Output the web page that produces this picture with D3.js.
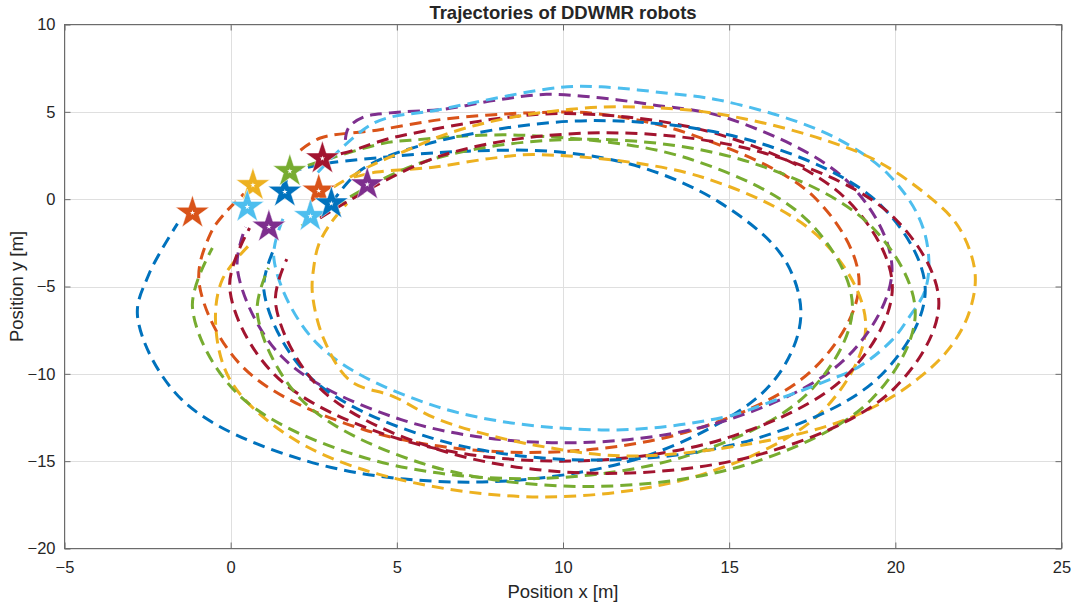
<!DOCTYPE html>
<html><head><meta charset="utf-8">
<script src="https://cdn.jsdelivr.net/npm/d3@7"></script>
<style>body{margin:0;background:#fff}text{font-family:"Liberation Sans",Arial,sans-serif;fill:#262626}</style>
</head><body><svg id="c" width="1076" height="608"></svg>
<script>
const xTicks=[-5,0,5,10,15,20,25];
const yTicks=[-20,-15,-10,-5,0,5,10];
const titleText="Trajectories of DDWMR robots";
const xLabel="Position x [m]";
const yLabel="Position y [m]";

const trajBlue1=[[1.63,0.42],[1.75,1.35],[2.5,1.9],[4.6,2.4],[7.15,2.75],[9.9,2.7],[12.4,1.8],[14.7,-0.17],[16.5,-3.0],[17.1,-5.5],[17.1,-7.5],[16.5,-10.0],[15.4,-12.0],[12.13,-14.93],[7.15,-16.2],[2.18,-14.93],[-1.47,-11.48],[-2.8,-6.75],[-2.46,-4.3],[-1.6,-1.4]];
const trajBlue2=[[3.03,-0.25],[3.91,1.65],[5.98,3.2],[10.95,4.5],[15.93,3.2],[19.57,-0.36],[20.9,-5.22],[19.57,-10.08],[15.93,-13.64],[10.95,-14.94],[5.98,-13.64],[2.33,-10.08],[1.0,-5.22],[1.34,-2.7]];
const trajOrange=[[2.1,2.8],[2.7,3.5],[4.4,3.95],[6.5,4.6],[8.98,4.94],[11.0,4.9],[13.95,3.64],[17.58,0.08],[18.91,-4.78],[17.58,-9.64],[13.95,-13.2],[8.98,-14.5],[4.02,-13.2],[0.38,-9.64],[-0.95,-4.78],[-0.6,-1.95],[-0.15,-0.75],[0.4,0.3]];
const trajYellow1=[[3.7,1.26],[4.4,1.55],[6.1,1.83],[7.9,2.35],[9.33,2.55],[14.22,1.24],[17.8,-2.35],[19.11,-7.25],[17.8,-12.15],[14.22,-15.74],[9.33,-17.05],[4.44,-15.74],[1.7,-13.5],[0.0,-10.4],[-0.45,-7.25],[-0.25,-4.6],[0.65,-2.45]];
const trajYellow2=[[3.1,0.7],[4.2,1.9],[5.3,2.8],[6.6,3.8],[8.5,4.7],[11.2,5.27],[13.9,5.08],[15.9,4.42],[17.9,3.37],[19.4,2.23],[20.9,0.32],[21.9,-1.58],[22.4,-4.25],[22.2,-6.6],[21.6,-8.6],[20.7,-10.25],[19.45,-11.8],[17.43,-13.28],[12.4,-14.7],[9.2,-14.1],[6.3,-12.65],[4.9,-11.3],[3.6,-10.4],[2.8,-8.0],[2.46,-5.4],[2.5,-3.9],[2.65,-2.6],[3.0,-1.4],[3.5,-0.25]];
const trajPurple=[[3.45,3.4],[3.55,4.1],[4.0,4.7],[4.8,4.94],[6.4,5.15],[8.0,5.67],[9.5,6.0],[11.1,5.8],[12.7,5.4],[14.98,4.62],[18.58,0.98],[19.9,-4.0],[18.58,-8.98],[14.98,-12.62],[10.05,-13.95],[5.13,-12.62],[1.52,-8.98],[0.2,-4.0],[0.45,-1.6]];
const trajRed1=[[2.76,2.33],[3.7,2.8],[4.4,3.26],[5.2,3.66],[9.94,4.9],[14.93,3.57],[18.57,-0.08],[19.91,-5.05],[18.57,-10.03],[14.93,-13.67],[9.94,-15.0],[4.96,-13.67],[1.31,-10.03],[-0.03,-5.05],[0.57,-1.65]];
const trajRed2=[[2.69,-1.08],[6.34,2.49],[11.33,3.8],[16.32,2.49],[19.97,-1.08],[21.31,-5.95],[19.97,-10.83],[16.32,-14.39],[11.33,-15.7],[6.34,-14.39],[2.69,-10.83],[1.35,-5.95],[1.69,-3.43]];
const trajGreen1=[[1.78,1.6],[3.1,2.4],[4.6,3.2],[5.4,3.37],[8.78,3.66],[13.75,2.34],[17.38,-1.26],[18.71,-6.17],[17.38,-11.09],[13.75,-14.68],[8.78,-16.0],[3.82,-14.68],[0.18,-11.09],[-1.15,-6.17],[-0.55,-2.8]];
const trajGreen2=[[2.13,-1.54],[5.75,2.1],[10.7,3.43],[15.65,2.1],[19.27,-1.54],[20.6,-6.51],[19.27,-11.48],[15.65,-15.12],[10.7,-16.45],[5.75,-15.12],[2.13,-11.48],[0.8,-6.51],[1.14,-3.94]];
const trajCyan=[[2.62,1.52],[4.3,4.35],[6.23,5.11],[9.9,6.4],[11.15,6.43],[13.2,6.05],[14.7,5.67],[17.1,4.4],[18.6,3.1],[19.8,1.4],[20.7,-1.0],[21.0,-3.2],[20.9,-5.2],[20.4,-6.8],[19.9,-8.07],[18.9,-9.6],[17.8,-10.5],[16.4,-11.5],[14.8,-12.5],[11.15,-13.21],[6.23,-11.89],[2.62,-8.3],[1.3,-3.39],[1.64,-0.85]];

const trajectories=[trajBlue1,trajOrange,trajYellow1,trajPurple,trajGreen1,trajCyan,trajRed1,trajBlue2,trajYellow2,trajGreen2,trajRed2];
const trajColors=["#0072BD","#D95319","#EDB120","#7E2F8E","#77AC30","#4DBEEE","#A2142F","#0072BD","#EDB120","#77AC30","#A2142F"];

const starX=[-1.15,0.67,0.5,1.15,1.63,1.78,2.65,2.4,2.76,3.03,4.11];
const starY=[-0.78,0.8,-0.44,-1.58,0.42,1.6,0.48,-0.97,2.33,-0.25,0.84];
const starColors=["#D95319","#EDB120","#4DBEEE","#7E2F8E","#0072BD","#77AC30","#D95319","#4DBEEE","#A2142F","#0072BD","#7E2F8E"];

const svg=d3.select("#c");
const L=64.5,R=1061.5,T=24.5,B=548.5;
const x=d3.scaleLinear().domain([-5,25]).range([L,R]);
const y=d3.scaleLinear().domain([-20,10]).range([B,T]);

svg.append("g").selectAll("line").data(xTicks).join("line")
 .attr("x1",d=>Math.round(x(d))+0.5).attr("x2",d=>Math.round(x(d))+0.5).attr("y1",T).attr("y2",B)
 .attr("stroke","#dfdfdf").attr("stroke-width",1);
svg.append("g").selectAll("line").data(yTicks).join("line")
 .attr("y1",d=>Math.round(y(d))+0.5).attr("y2",d=>Math.round(y(d))+0.5).attr("x1",L).attr("x2",R)
 .attr("stroke","#dfdfdf").attr("stroke-width",1);

const line=d3.line().x(d=>x(d[0])).y(d=>y(d[1])).curve(d3.curveCatmullRom.alpha(0.5));
svg.append("clipPath").attr("id","pc").append("rect").attr("x",L).attr("y",T).attr("width",R-L).attr("height",B-T);
const gT=svg.append("g").attr("clip-path","url(#pc)");
trajectories.forEach((t,i)=>{
  gT.append("path").attr("d",line(t)).attr("fill","none").attr("stroke",trajColors[i])
   .attr("stroke-width",3).attr("stroke-dasharray","12,7");
});

const big=d3.symbol(d3.symbolStar,350), small=d3.symbol(d3.symbolStar,9);
starX.forEach((sx,i)=>{
  const g=svg.append("g").attr("transform",`translate(${x(sx)},${y(starY[i])})`);
  g.append("path").attr("d",big()).attr("fill",starColors[i]).attr("stroke","#ffffff").attr("stroke-width",0.8).attr("stroke-opacity",0.6);
  g.append("path").attr("d",small()).attr("fill","#ffffff");
});

const ax=svg.append("g").attr("fill","none");
ax.append("rect").attr("x",L).attr("y",T).attr("width",R-L).attr("height",B-T).attr("stroke","#6b6b6b").attr("stroke-width",1);
const bottomAxis=d3.axisBottom(x).tickValues(xTicks).tickSize(-6).tickPadding(13).tickFormat(d3.format("d"));
const leftAxis=d3.axisLeft(y).tickValues(yTicks).tickSize(-6).tickPadding(9).tickFormat(d3.format("d"));
const topAxis=d3.axisTop(x).tickValues(xTicks).tickSize(-6).tickFormat("");
const rightAxis=d3.axisRight(y).tickValues(yTicks).tickSize(-6).tickFormat("");
function style(g){g.select(".domain").remove();g.selectAll(".tick line").attr("stroke","#6b6b6b");
 g.selectAll("text").style("font-size","16.5px").attr("fill","#262626");}
svg.append("g").attr("transform",`translate(0,${B})`).call(bottomAxis).call(style);
svg.append("g").attr("transform",`translate(${L},0)`).call(leftAxis).call(style);
svg.append("g").attr("transform",`translate(0,${T})`).call(topAxis).call(style);
svg.append("g").attr("transform",`translate(${R},0)`).call(rightAxis).call(style);

svg.append("text").attr("x",(L+R)/2).attr("y",18.5).attr("text-anchor","middle")
 .style("font-size","18.5px").style("font-weight","bold").attr("fill","#000").text(titleText);
svg.append("text").attr("x",(L+R)/2).attr("y",598).attr("text-anchor","middle")
 .style("font-size","18.5px").text(xLabel);
svg.append("text").attr("transform",`translate(23,${(T+B)/2}) rotate(-90)`).attr("text-anchor","middle")
 .style("font-size","18.5px").text(yLabel);
</script></body></html>
